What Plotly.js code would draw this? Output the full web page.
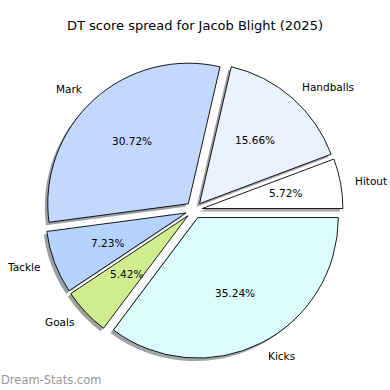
<!DOCTYPE html>
<html>
<head>
<meta charset="utf-8">
<script src="https://cdn.plot.ly/plotly-3.0.1.min.js"></script>
<style>html,body{margin:0;padding:0;background:#fff;} #chart{width:390px;height:390px;}</style>
</head>
<body>
<div id="chart"></div>
<script>
// Data
const labels = ["Hitout", "Handballs", "Mark", "Tackle", "Goals", "Kicks"];
const values = [5.72, 15.66, 30.72, 7.23, 5.42, 35.24];
const colors = ["#ffffff", "#ebf1ff", "#c3d7ff", "#b4d4ff", "#d0ee90", "#dcfdfe"];
const titleText = "DT score spread for Jacob Blight (2025)";
const watermark = "Dream-Stats.com";

// Layout geometry (styles)
const W = 390, H = 390;
const m = {l: 42, r: 47, t: 61, b: 28};
const pw = W - m.l - m.r, ph = H - m.t - m.b;
const pull = 0.06;
const sh = 0.01;

const total = values.reduce((a, b) => a + b, 0);
// Plotly (counterclockwise) puts the END of the first slice at `rotation`;
// start the first slice at 3 o'clock like matplotlib's startangle=0.
const rot = 90 - values[0] / total * 360;

function shadowColor(hex) {
  const n = parseInt(hex.slice(1), 16);
  const r = (n >> 16) & 255, g = (n >> 8) & 255, b = n & 255;
  return `rgba(${Math.round(r*0.3)},${Math.round(g*0.3)},${Math.round(b*0.3)},0.5)`;
}

const shadow = {
  type: "pie", values: values, labels: labels, sort: false,
  direction: "counterclockwise", rotation: rot,
  pull: values.map(() => pull),
  marker: {colors: colors.map(shadowColor), line: {width: 0}},
  textinfo: "none", hoverinfo: "skip", showlegend: false,
  domain: {x: [0, 1 - sh], y: [0, 1 - sh]}
};
const main = {
  type: "pie", values: values, labels: labels, sort: false,
  direction: "counterclockwise", rotation: rot,
  pull: values.map(() => pull),
  marker: {colors: colors, line: {color: "#000", width: 0.9}},
  textinfo: "none", showlegend: false,
  domain: {x: [sh, 1], y: [sh, 1]}
};

// label positions derived from the data (angles of each slice)
const r = Math.min(pw * (1 - sh), ph * (1 - sh)) / (2 * (1 + pull));
const cx = m.l + pw * (sh + 1) / 2;
const cy = m.t + ph * (1 - sh) / 2;
const annotations = [];
let cum = 0;
values.forEach((v, i) => {
  const mid = (cum + v / 2) / total * 2 * Math.PI;
  cum += v;
  const dx = Math.cos(mid), dy = -Math.sin(mid);
  const lx = cx + (pull + 1.1) * r * dx, ly = cy + (pull + 1.1) * r * dy;
  const tx = cx + (pull + 0.6) * r * dx, ty = cy + (pull + 0.6) * r * dy;
  annotations.push({
    xref: "paper", yref: "paper",
    x: (lx - m.l) / pw, y: 1 - (ly - m.t) / ph,
    text: labels[i], showarrow: false, borderpad: 0,
    xanchor: dx > 0 ? "left" : "right", yanchor: "middle",
    font: {family: "DejaVu Sans", size: 10.5, color: "#000"}
  });
  annotations.push({
    xref: "paper", yref: "paper",
    x: (tx - m.l) / pw, y: 1 - (ty - m.t) / ph,
    text: (v / total * 100).toFixed(2) + "%", showarrow: false, borderpad: 0,
    xanchor: "center", yanchor: "middle",
    font: {family: "DejaVu Sans", size: 10.5, color: "#000"}
  });
});
annotations.push({
  xref: "paper", yref: "paper",
  x: (0 - m.l) / pw, y: 1 - (380 - m.t) / ph,
  text: watermark, showarrow: false, borderpad: 0, xanchor: "left", yanchor: "middle",
  font: {family: "DejaVu Sans", size: 11.5, color: "#999999"}
});

const layout = {
  width: W, height: H,
  margin: m,
  paper_bgcolor: "#fff", plot_bgcolor: "#fff",
  title: {text: titleText, x: 0.5, xref: "container", xanchor: "center",
          y: 1 - 25 / H, yref: "container", yanchor: "middle",
          font: {family: "DejaVu Sans", size: 13, color: "#000"}},
  annotations: annotations,
  showlegend: false
};

Plotly.newPlot("chart", [shadow, main], layout, {staticPlot: true, displayModeBar: false});
</script>
</body>
</html>
